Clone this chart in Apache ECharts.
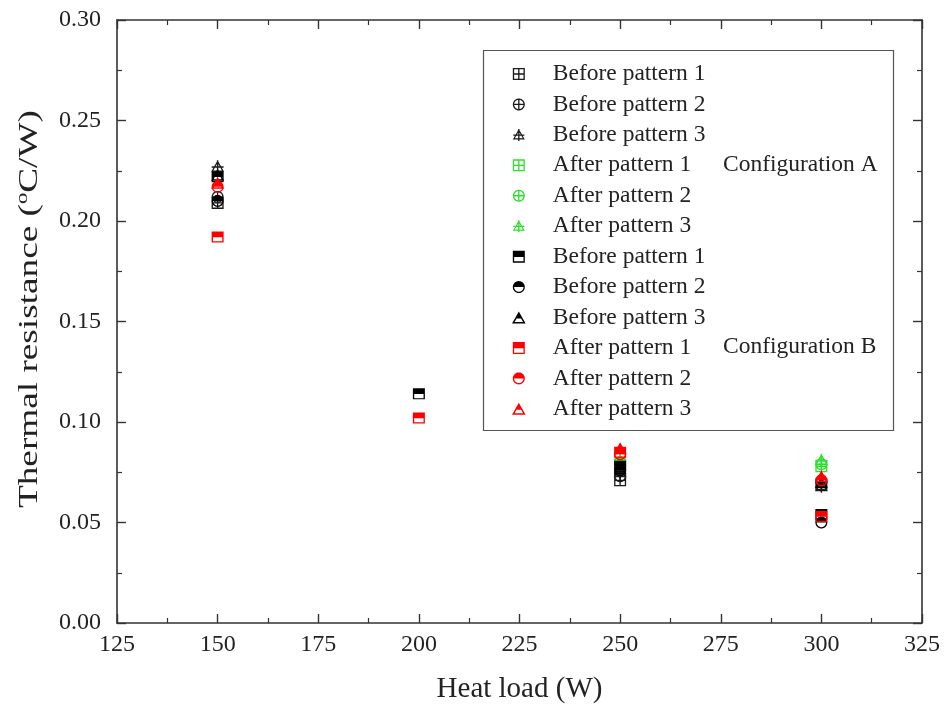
<!DOCTYPE html>
<html>
<head>
<meta charset="utf-8">
<script src="https://cdn.jsdelivr.net/npm/echarts@6/dist/echarts.min.js"></script>
<style>
html,body{margin:0;padding:0;background:#fff;}
#chart{width:946px;height:706px;}
</style>
</head>
<body>
<div id="chart"></div>
<script>
// ---------- data ----------
var heatLoads = [150, 200, 250, 300];
var xTicks = [125, 150, 175, 200, 225, 250, 275, 300, 325];
var yTicks = [0.00, 0.05, 0.10, 0.15, 0.20, 0.25, 0.30];

// Configuration A
var aBefore1 = [0.209, null, 0.071, 0.069];
var aBefore2 = [0.212, null, 0.073, 0.070];
var aBefore3 = [0.227, null, 0.075, 0.068];
var aAfter1  = [null,  null, 0.079, 0.078];
var aAfter2  = [null,  null, 0.080, 0.079];
var aAfter3  = [null,  null, 0.081, 0.081];
// Configuration B
var bBefore1 = [0.222, 0.114, 0.078, 0.054];
var bBefore2 = [0.210, null,  0.076, 0.050];
var bBefore3 = [0.223, null,  0.077, 0.070];
var bAfter1  = [0.192, 0.102, 0.085, 0.053];
var bAfter2  = [0.217, null,  0.084, 0.071];
var bAfter3  = [0.219, null,  0.087, 0.073];

var seriesNames = ['Before pattern 1','Before pattern 2','Before pattern 3',
                   'After pattern 1','After pattern 2','After pattern 3'];
var configLabels = ['Configuration A', 'Configuration B'];
var xTitle = 'Heat load (W)';

// ---------- symbol geometry ----------
function area(p){var s=0;for(var i=0;i<p.length;i++){var a=p[i],b=p[(i+1)%p.length];s+=a[0]*b[1]-b[0]*a[1];}return s/2;}
function orient(p,sign){return area(p)*sign>0?p:p.slice().reverse();}
function poly(p,sign){p=orient(p,sign);return 'M'+p.map(function(q){return q[0].toFixed(2)+' '+q[1].toFixed(2);}).join(' L')+' Z';}
function rect(x0,y0,x1,y1){return [[x0,y0],[x1,y0],[x1,y1],[x0,y1]];}
function arc(cx,cy,r,a0,a1,n){var pts=[];for(var i=0;i<=n;i++){var a=a0+(a1-a0)*i/n;pts.push([cx+r*Math.cos(a),cy+r*Math.sin(a)]);}return pts;}
var T = 11;
function sqCross(){
  return 'path://'+poly(rect(0,0,100,100),1)+poly(rect(T,T,100-T,100-T),-1)
    +poly(rect(50-T/2,0,50+T/2,100),1)+poly(rect(0,50-T/2,100,50+T/2),1);
}
function ciCross(){
  return 'path://'+poly(arc(50,50,50,0,Math.PI*2,48).slice(0,48),1)+poly(arc(50,50,50-T,0,Math.PI*2,48).slice(0,48),-1)
    +poly(rect(50-T/2,0,50+T/2,100),1)+poly(rect(0,50-T/2,100,50+T/2),1);
}
var H = 88;
function triInner(t){
  var s = t*Math.sqrt(1+Math.pow(50/H,2));
  var ya = s*H/50, yb = H-t, half = 50*yb/H - s;
  return [[50,ya],[50+half,yb],[50-half,yb]];
}
function triCross(){
  return 'path://'+poly([[50,0],[100,H],[0,H]],1)+poly(triInner(T*0.9),-1)
    +poly(rect(50-T/2,0,50+T/2,100),1)+poly(rect(4,52-T/2,96,52+T/2),1);
}
function sqHalf(){
  return 'path://'+poly(rect(0,0,100,52),1)+poly(rect(0,52,100,100),1)+poly(rect(T,52,100-T,100-T),-1);
}
function ciHalf(){
  var top = arc(50,50,50,Math.PI,Math.PI*2,24);
  var bot = arc(50,50,50,0,Math.PI,24);
  var botIn = arc(50,50,50-T,0,Math.PI,24);
  return 'path://'+poly(top,1)+poly(bot,1)+poly(botIn,-1);
}
function triHalf(){
  var ym = 0.58*H, xm = 50*ym/H;
  var s = T*Math.sqrt(1+Math.pow(50/H,2));
  var yb = H-T;
  var inner = [[50-xm+s,ym],[50+xm-s,ym],[50+50*yb/H-s,yb],[50-50*yb/H+s,yb]];
  return 'path://'+poly([[50,0],[50+xm,ym],[50-xm,ym]],1)+poly([[50-xm,ym],[50+xm,ym],[100,H],[0,H]],1)+poly(inner,-1);
}

var colA0 = '#1a1a1a', colA1 = '#2de02d', colB0 = '#000000', colB1 = '#ff0000';

function mk(name, vals, symbol, color, size){
  var data = [];
  for (var i=0;i<heatLoads.length;i++){ if (vals[i]!==null) data.push([heatLoads[i], vals[i]]); }
  return {
    name: name, type: 'scatter', data: data, symbol: symbol, symbolSize: size,
    itemStyle: {color: color, opacity: 1}, xAxisIndex: 0, yAxisIndex: 0,
    emphasis: {disabled: true}, z: 3
  };
}

var series = [
  mk('A|'+seriesNames[0], aBefore1, sqCross(), colA0, [12,12]),
  mk('A|'+seriesNames[1], aBefore2, ciCross(), colA0, [12,12]),
  mk('A|'+seriesNames[2], aBefore3, triCross(), colA0, [13,13]),
  mk('A|'+seriesNames[3], aAfter1, sqCross(), colA1, [12,12]),
  mk('A|'+seriesNames[4], aAfter2, ciCross(), colA1, [12,12]),
  mk('A|'+seriesNames[5], aAfter3, triCross(), colA1, [13,13]),
  mk('B|'+seriesNames[0], bBefore1, sqHalf(), colB0, [12,11]),
  mk('B|'+seriesNames[1], bBefore2, ciHalf(), colB0, [12,12]),
  mk('B|'+seriesNames[2], bBefore3, triHalf(), colB0, [13,12]),
  mk('B|'+seriesNames[3], bAfter1, sqHalf(), colB1, [12,11]),
  mk('B|'+seriesNames[4], bAfter2, ciHalf(), colB1, [12,12]),
  mk('B|'+seriesNames[5], bAfter3, triHalf(), colB1, [13,12])
];

var font = 'Liberation Serif';
var axisCol = '#333';
var tickFont = 24;

function baseX(show){
  return {
    type: 'value', min: xTicks[0], max: xTicks[xTicks.length-1], interval: 25,
    position: show ? 'bottom' : 'top',
    axisLine: {show: true, onZero: false, lineStyle: {color: axisCol, width: 1.6}},
    axisTick: {show: true, inside: true, length: 9, lineStyle: {color: axisCol, width: 1.4}},
    minorTick: {show: true, splitNumber: 2, length: 5, lineStyle: {color: axisCol, width: 1.2}},
    splitLine: {show: false},
    axisLabel: {show: show, color: '#222', fontFamily: font, fontSize: tickFont, margin: 10},
    name: show ? xTitle : '', nameLocation: 'middle', nameGap: 52,
    nameTextStyle: {color: '#222', fontFamily: font, fontSize: 29}
  };
}
function baseY(show){
  return {
    type: 'value', min: yTicks[0], max: yTicks[yTicks.length-1], interval: 0.05,
    position: show ? 'left' : 'right',
    axisLine: {show: true, onZero: false, lineStyle: {color: axisCol, width: 1.6}},
    axisTick: {show: true, inside: true, length: 9, lineStyle: {color: axisCol, width: 1.4}},
    minorTick: {show: true, splitNumber: 2, length: 5, lineStyle: {color: axisCol, width: 1.2}},
    splitLine: {show: false},
    axisLabel: {show: show, color: '#222', fontFamily: font, fontSize: tickFont, margin: 16,
      formatter: function(v){return v.toFixed(2);}},
    name: ''
  };
}

var legendFont = 23.5;
var chart = echarts.init(document.getElementById('chart'), null, {renderer: 'canvas'});
chart.setOption({
  backgroundColor: '#fff',
  animation: false,
  grid: {left: 117, right: 24, top: 20, bottom: 83, containLabel: false, outerBoundsMode: 'none'},
  xAxis: [baseX(true), baseX(false)],
  yAxis: [baseY(true), baseY(false)],
  legend: {
    orient: 'vertical', left: 512, top: 62, padding: 0,
    itemWidth: 14, itemHeight: 12, itemGap: 30.3 - legendFont - 0.36, selectedMode: false,
    data: series.map(function(s){return s.name;}),
    formatter: function(n){return n.split('|')[1];},
    textStyle: {fontFamily: font, fontSize: legendFont, color: '#222', lineHeight: legendFont, padding: [0,0,0,22]}
  },
  graphic: [
    {type: 'rect', left: 481, top: 48, shape: {width: 410, height: 380},
     style: {fill: 'none', stroke: '#555', lineWidth: 1.2}, z: 1, silent: true},
    {type: 'text', x: 723, y: 165, style: {text: configLabels[0], fontFamily: font, fontSize: legendFont, fill: '#222', verticalAlign: 'middle'}, silent: true},
    {type: 'text', x: 723, y: 347, style: {text: configLabels[1], fontFamily: font, fontSize: legendFont, fill: '#222', verticalAlign: 'middle'}, silent: true},
    {type: 'text', x: 30, y: 309, rotation: Math.PI/2, scaleX: 1.33, scaleY: 1,
     style: {text: 'Thermal resistance ({sup|o}C/W)', fontFamily: font, fontSize: 28, fill: '#222',
       align: 'center', verticalAlign: 'middle',
       rich: {sup: {fontFamily: font, fontSize: 17, fill: '#222', padding: [0,0,14,0]}}}, silent: true}
  ],
  series: series
});
</script>
</body>
</html>
